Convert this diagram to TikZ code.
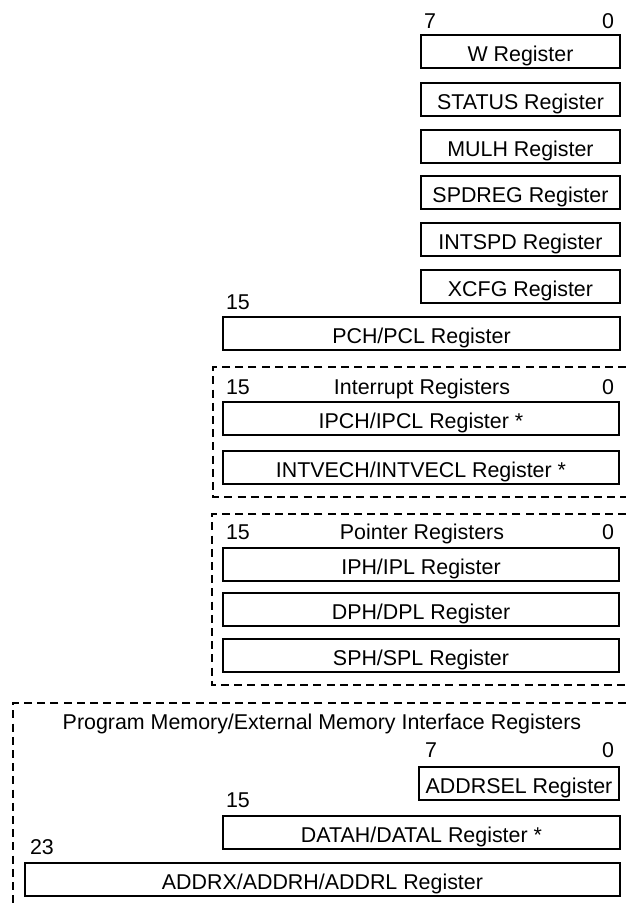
\documentclass[tikz,border=0pt]{standalone}
\usepackage{fontspec}
\setmainfont{Liberation Sans}
\begin{document}
\begin{tikzpicture}[x=0.5pt,y=-0.5pt,
  font=\fontsize{10.7}{12}\selectfont,
  reg/.style={draw,line width=1pt,inner sep=0pt,minimum height=16.5pt,
    text height=10.2pt,text depth=0pt},
  bitnum/.style={inner sep=0pt,anchor=center,text height=7.66pt,text depth=0pt},
  group/.style={dashed,line width=1pt,dash pattern=on 4pt off 2.6pt}]
  \useasboundingbox (0,0) rectangle (626,907);
%%
  % Bits: 8-bit core registers
  \node[bitnum] (bhi8) at (430,21) {7};
  \node[bitnum] (blo8) at (608,21) {0};
  % Node: W
  \node[reg,minimum width=99.5pt] (wreg) at (520.5,51.5) {W Register};
  % Node: STATUS
  \node[reg,minimum width=99.5pt] (status) at (520.5,99) {STATUS Register};
  % Node: MULH
  \node[reg,minimum width=99.5pt] (mulh) at (520.5,146) {MULH Register};
  % Node: SPDREG
  \node[reg,minimum width=99.5pt] (spdreg) at (520.5,192.5) {SPDREG Register};
  % Node: INTSPD
  \node[reg,minimum width=99.5pt] (intspd) at (520.5,239) {INTSPD Register};
  % Node: XCFG
  \node[reg,minimum width=99.5pt] (xcfg) at (520.5,286) {XCFG Register};
%%
  % Node: PCH/PCL
  \node[bitnum] (bhipc) at (238,302) {15};
  \node[reg,minimum width=198.5pt] (pc) at (421.5,333.5) {PCH/PCL Register};
%%
  % Group: interrupt registers
  \draw[group] (626,367) -- (213,367) -- (213,497) -- (626,497);
  \node[bitnum] (bhiint) at (238,387) {15};
  \node[bitnum] (intname) at (422,387) {Interrupt Registers};
  \node[bitnum] (bloint) at (608,387) {0};
  \node[reg,minimum width=198pt] (ipc) at (421,418) {IPCH/IPCL Register *};
  \node[reg,minimum width=198pt] (intvec) at (421,467.5) {INTVECH/INTVECL Register *};
%%
  % Group: pointer registers
  \draw[group] (626,514) -- (212,514) -- (212,685) -- (626,685);
  \node[bitnum] (bhiptr) at (238,532) {15};
  \node[bitnum] (ptrname) at (422,532) {Pointer Registers};
  \node[bitnum] (bloptr) at (608,532) {0};
  \node[reg,minimum width=198pt] (ip) at (421,564) {IPH/IPL Register};
  \node[reg,minimum width=198pt] (dp) at (421,609.5) {DPH/DPL Register};
  \node[reg,minimum width=198pt] (sp) at (421,655) {SPH/SPL Register};
%%
  % Group: program memory / external memory interface
  \draw[group] (626,703) -- (13,703) -- (13,907);
  \node[bitnum] (pmname) at (322,722) {Program Memory/External Memory Interface Registers};
  \node[bitnum] (bhisel) at (431,750) {7};
  \node[bitnum] (blosel) at (608,750) {0};
  \node[reg,minimum width=100pt] (addrsel) at (519,783) {ADDRSEL Register};
  \node[bitnum] (bhidata) at (238,800) {15};
  \node[reg,minimum width=198.5pt] (data) at (421.5,832) {DATAH/DATAL Register *};
  \node[bitnum] (bhiaddr) at (42,847) {23};
  \node[reg,minimum width=297.5pt] (addr) at (322.5,879.5) {ADDRX/ADDRH/ADDRL Register};
%
\end{tikzpicture}
\end{document}
